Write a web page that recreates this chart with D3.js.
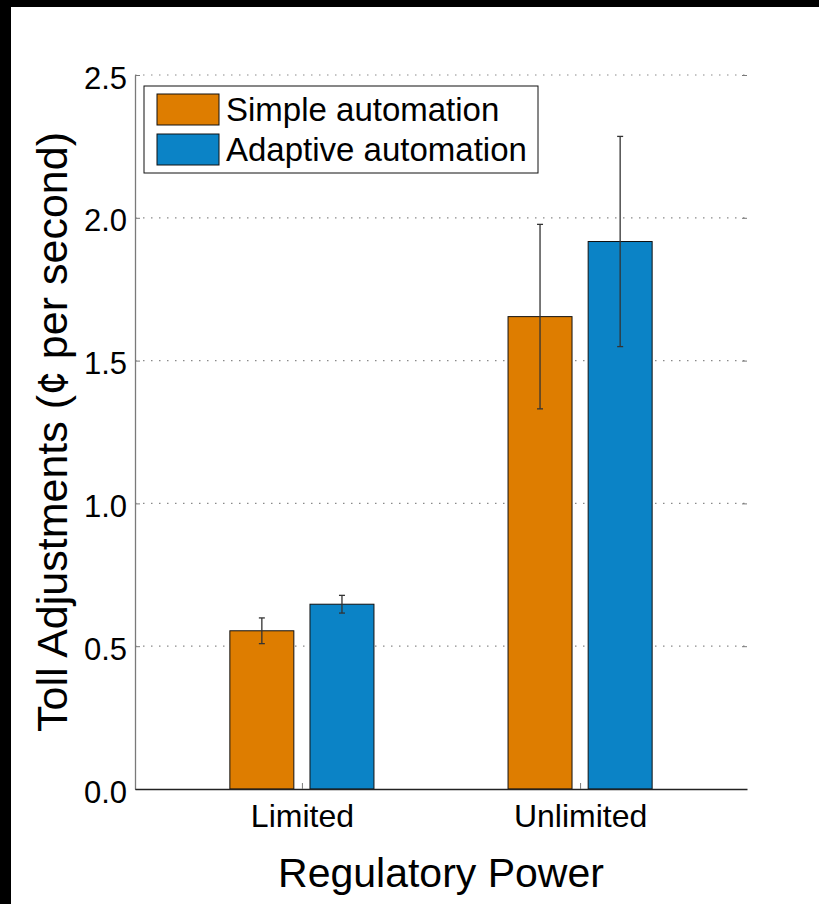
<!DOCTYPE html>
<html>
<head>
<meta charset="utf-8">
<script src="https://cdn.jsdelivr.net/npm/d3@7"></script>
<style>
  html, body { margin: 0; padding: 0; background: #fff; }
  svg { display: block; font-family: "Liberation Sans", Arial, Helvetica, sans-serif; }
</style>
</head>
<body>
<svg id="chart" width="819" height="904"></svg>
<script>
// Toll adjustment means with standard errors, by regulatory power condition
const categories = ["Limited", "Unlimited"];
const seriesNames = ["Simple automation", "Adaptive automation"];
const simpleMeans = [0.554, 1.654];
const simpleErrors = [0.045, 0.323];
const adaptiveMeans = [0.647, 1.917];
const adaptiveErrors = [0.031, 0.368];
const yTicks = [0.0, 0.5, 1.0, 1.5, 2.0, 2.5];
const seriesColors = ["#de7d00", "#0b83c6"];

const svg = d3.select("#chart");
const W = 819, H = 904;
const margin = { left: 135, right: 72, top: 75, bottom: 115 };
const plotW = W - margin.left - margin.right;
const plotH = H - margin.top - margin.bottom;

// frame edges
svg.append("rect").attr("x", 0).attr("y", 0).attr("width", W).attr("height", 7).attr("fill", "#000");
svg.append("rect").attr("x", 0).attr("y", 0).attr("width", 11).attr("height", H).attr("fill", "#000");

const g = svg.append("g").attr("transform", `translate(${margin.left},${margin.top})`);

// category positions 1..n on a padded linear scale
const x = d3.scaleLinear().domain([0.4, categories.length + 0.6]).range([0, plotW]);
const y = d3.scaleLinear().domain([0, 2.5]).range([plotH, 0]);

const offset = 0.144, barW = 0.23;

// dotted grid
g.append("g").selectAll("line").data(yTicks.filter(d => d > 0)).join("line")
  .attr("x1", 0).attr("x2", plotW)
  .attr("y1", d => y(d)).attr("y2", d => y(d))
  .attr("stroke", "#8a8a8a").attr("stroke-width", 1.2)
  .attr("stroke-dasharray", "1.5,6.5");

// bars
const rows = categories.map((c, i) => ({
  cat: c, idx: i + 1,
  vals: [
    { s: 0, mean: simpleMeans[i], err: simpleErrors[i] },
    { s: 1, mean: adaptiveMeans[i], err: adaptiveErrors[i] }
  ]
}));

const grp = g.append("g").selectAll("g").data(rows).join("g");
const xb = (r, d) => x(r.idx + (d.s === 0 ? -offset : offset));
const bw = x(barW) - x(0);

grp.each(function (r) {
  const sel = d3.select(this);
  sel.selectAll("rect").data(r.vals).join("rect")
    .attr("x", d => xb(r, d) - bw / 2)
    .attr("width", bw)
    .attr("y", d => y(d.mean))
    .attr("height", d => y(0) - y(d.mean))
    .attr("fill", d => seriesColors[d.s])
    .attr("stroke", "#111").attr("stroke-width", 1);

  // error bars
  const eb = sel.selectAll("g.err").data(r.vals).join("g").attr("class", "err")
    .attr("stroke", "#333").attr("stroke-width", 1.3);
  eb.append("line")
    .attr("x1", d => xb(r, d)).attr("x2", d => xb(r, d))
    .attr("y1", d => y(d.mean + d.err)).attr("y2", d => y(d.mean - d.err));
  eb.append("line")
    .attr("x1", d => xb(r, d) - 3).attr("x2", d => xb(r, d) + 3)
    .attr("y1", d => y(d.mean + d.err)).attr("y2", d => y(d.mean + d.err));
  eb.append("line")
    .attr("x1", d => xb(r, d) - 3).attr("x2", d => xb(r, d) + 3)
    .attr("y1", d => y(d.mean - d.err)).attr("y2", d => y(d.mean - d.err));
});

// left axis
const yAxis = g.append("g")
  .call(d3.axisLeft(y).tickValues(yTicks).tickFormat(d3.format(".1f"))
    .tickSize(-5).tickSizeOuter(0).tickPadding(8));
yAxis.select(".domain").attr("stroke", "#7a7a7a").attr("stroke-width", 1.3);
yAxis.selectAll(".tick line").attr("stroke", "#7a7a7a");
yAxis.selectAll(".tick text").attr("font-size", 31).attr("fill", "#000")
  .attr("font-family", "Liberation Sans, Arial, sans-serif").attr("dy", "0.42em");

// right ticks
const rAxis = g.append("g").attr("transform", `translate(${plotW},0)`)
  .call(d3.axisRight(y).tickValues(yTicks).tickSize(-5).tickSizeOuter(0).tickFormat(""));
rAxis.select(".domain").remove();
rAxis.selectAll(".tick line").attr("stroke", "#7a7a7a");

// bottom axis
const xAxis = g.append("g").attr("transform", `translate(0,${plotH})`)
  .call(d3.axisBottom(x).tickValues(d3.range(1, categories.length + 1))
    .tickFormat(d => categories[d - 1]).tickSize(-6).tickSizeOuter(0).tickPadding(15));
xAxis.select(".domain").attr("stroke", "#222").attr("stroke-width", 1.6);
xAxis.selectAll(".tick line").attr("stroke", "#7a7a7a");
xAxis.selectAll(".tick text").attr("font-size", 32).attr("fill", "#000")
  .attr("font-family", "Liberation Sans, Arial, sans-serif");

// axis titles
svg.append("text")
  .attr("x", margin.left + plotW / 2).attr("y", 887)
  .attr("text-anchor", "middle").attr("font-size", 41).attr("fill", "#000")
  .text("Regulatory Power");
svg.append("text")
  .attr("transform", `translate(67,${margin.top + plotH / 2}) rotate(-90)`)
  .attr("text-anchor", "middle").attr("font-size", 43).attr("fill", "#000")
  .text("Toll Adjustments (¢ per second)");

// legend
const lg = svg.append("g").attr("transform", "translate(144,86)");
lg.append("rect").attr("width", 394).attr("height", 87)
  .attr("fill", "#fff").attr("stroke", "#111").attr("stroke-width", 1);
const li = lg.selectAll("g.item").data(seriesNames).join("g").attr("class", "item")
  .attr("transform", (d, i) => `translate(13,${8 + i * 40})`);
li.append("rect").attr("width", 62).attr("height", 31)
  .attr("fill", (d, i) => seriesColors[i]).attr("stroke", "#111").attr("stroke-width", 1);
li.append("text").attr("x", 69).attr("y", 27).attr("font-size", 33).attr("fill", "#000")
  .text(d => d);
</script>
</body>
</html>
